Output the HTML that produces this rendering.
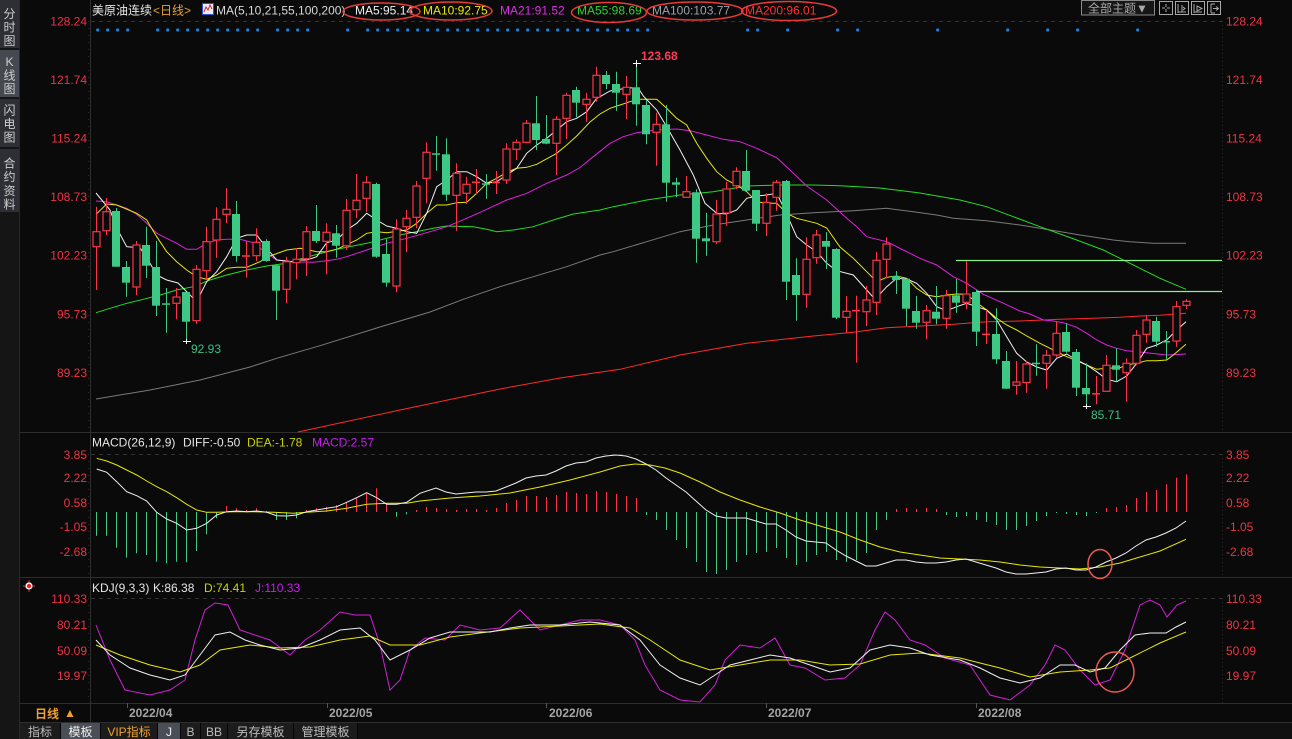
<!DOCTYPE html>
<html><head><meta charset="utf-8">
<style>
html,body{margin:0;padding:0;background:#0a0a0a;width:1292px;height:739px;overflow:hidden}
svg{display:block}
text{font-family:"Liberation Sans","Noto Sans CJK SC",sans-serif;font-size:12px}
.cj{font-family:"Liberation Sans","Noto Sans CJK SC",sans-serif}
</style></head><body>
<svg id="s" width="1292" height="739" viewBox="0 0 1292 739" xmlns="http://www.w3.org/2000/svg">
<rect x="0" y="0" width="1292" height="739" fill="#0a0a0a"/>
<!-- sidebar -->
<rect x="0" y="0" width="20" height="739" fill="#151515"/>
<rect x="0" y="0" width="19" height="48" fill="#2d2f34"/>
<rect x="0" y="50" width="19" height="47" fill="#464950"/>
<rect x="0" y="99" width="19" height="48" fill="#2d2f34"/>
<rect x="0" y="149" width="19" height="63" fill="#2d2f34"/>
<line x1="19.5" y1="0" x2="19.5" y2="739" stroke="#2a2a2a"/>
<g fill="#cfcfcf" font-size="13" text-anchor="middle" class="cj">
<text x="9.5" y="18">分</text><text x="9.5" y="31.5">时</text><text x="9.5" y="45">图</text>
<text x="9.5" y="66" font-family="Liberation Mono,monospace">K</text><text x="9.5" y="79.5">线</text><text x="9.5" y="93">图</text>
<text x="9.5" y="114.5">闪</text><text x="9.5" y="128">电</text><text x="9.5" y="141.5">图</text>
<text x="9.5" y="167.5">合</text><text x="9.5" y="181">约</text><text x="9.5" y="195">资</text><text x="9.5" y="208.5">料</text>
</g>
<!-- frame lines -->
<line x1="90.5" y1="0" x2="90.5" y2="722" stroke="#2e2e2e"/>
<line x1="20" y1="432.5" x2="1292" y2="432.5" stroke="#2e2e2e"/>
<line x1="20" y1="577.5" x2="1292" y2="577.5" stroke="#2e2e2e"/>
<line x1="20" y1="703.5" x2="1292" y2="703.5" stroke="#2e2e2e"/>
<line x1="20" y1="722.5" x2="1292" y2="722.5" stroke="#2e2e2e"/>
<line x1="1222.5" y1="21" x2="1222.5" y2="432" stroke="#2a2a2a" stroke-dasharray="1,3"/>
<line x1="1222.5" y1="454" x2="1222.5" y2="577" stroke="#2a2a2a" stroke-dasharray="1,3"/>
<line x1="1222.5" y1="598" x2="1222.5" y2="703" stroke="#2a2a2a" stroke-dasharray="1,3"/>
<line x1="88.5" y1="21" x2="88.5" y2="432" stroke="#2a2a2a" stroke-dasharray="1,6"/>
<line x1="88.5" y1="454" x2="88.5" y2="577" stroke="#2a2a2a" stroke-dasharray="1,6"/>
<line x1="88.5" y1="598" x2="88.5" y2="703" stroke="#2a2a2a" stroke-dasharray="1,6"/>
<!-- dashed top refs -->
<line x1="91" y1="21.5" x2="1222" y2="21.5" stroke="#333" stroke-dasharray="4,4"/>
<line x1="91" y1="454.5" x2="1222" y2="454.5" stroke="#333" stroke-dasharray="4,4"/>
<line x1="91" y1="598.5" x2="1222" y2="598.5" stroke="#333" stroke-dasharray="4,4"/>

<!-- header -->
<text x="92" y="14.5" fill="#e8e8e8">美原油连续</text>
<text x="153" y="14.5" fill="#e8a23a">&lt;日线&gt;</text>
<rect x="202.5" y="3.5" width="11" height="11" fill="#e8ecff" stroke="#2a50d0"/>
<polyline points="204,12 206,7 208,10 210,5 212,9" fill="none" stroke="#e02020" stroke-width="1"/>
<text x="216" y="14.5" fill="#d8d8d8">MA(5,10,21,55,100,200)</text>
<text x="355" y="14.5" fill="#f0f0f0">MA5:95.14</text>
<text x="423" y="14.5" fill="#e8e800">MA10:92.75</text>
<text x="500" y="14.5" fill="#d830e0">MA21:91.52</text>
<text x="577" y="14.5" fill="#30d030">MA55:98.69</text>
<text x="652" y="14.5" fill="#9aa2aa">MA100:103.77</text>
<text x="745" y="14.5" fill="#ff3030">MA200:96.01</text>
<g fill="none" stroke="#e83a3a" stroke-width="1.5">
<ellipse cx="381.5" cy="11.5" rx="38.5" ry="8.5"/>
<ellipse cx="451" cy="11" rx="41" ry="9"/>
<ellipse cx="609" cy="12.5" rx="37.5" ry="10"/>
<ellipse cx="695" cy="11" rx="48" ry="9"/>
<ellipse cx="789" cy="11" rx="47.5" ry="9.5"/>
</g>
<!-- top right buttons -->
<rect x="1081.5" y="0.5" width="73" height="14.5" fill="#161616" stroke="#8a8a8a"/>
<text x="1088" y="12.5" fill="#a8a8a8">全部主题▼</text>
<g fill="none" stroke="#a8a8a8">
<rect x="1159.5" y="1.5" width="13" height="13"/>
<rect x="1175.5" y="1.5" width="13" height="13"/>
<rect x="1191.5" y="1.5" width="13" height="13"/>
<rect x="1207.5" y="1.5" width="13" height="13"/>
<path d="M1166 4v3M1166 9v3M1162 8h3M1167 8h3"/>
<path d="M1178 4v9M1178 12h8M1182 5v7M1183 7l2 1.5-2 1.5"/>
<path d="M1194 4v9M1194 12h8M1197 6l5 2.5-5 2.5z"/>
<path d="M1211 4v9M1211 4h4M1211 13h4M1213 8.5h5M1216 6.5l2.5 2-2.5 2"/>
</g>

<!-- left labels -->
<g fill="#ee3344" text-anchor="end">
<text x="87" y="25.5">128.24</text><text x="87" y="84">121.74</text><text x="87" y="142.5">115.24</text><text x="87" y="201">108.73</text><text x="87" y="259.5">102.23</text><text x="87" y="318.5">95.73</text><text x="87" y="377">89.23</text>
<text x="87" y="458.8">3.85</text><text x="87" y="481.8">2.22</text><text x="87" y="507.2">0.58</text><text x="87" y="531.2">-1.05</text><text x="87" y="556.2">-2.68</text>
<text x="87" y="602.8">110.33</text><text x="87" y="628.8">80.21</text><text x="87" y="655.2">50.09</text><text x="87" y="680.2">19.97</text>
</g>
<g fill="#ee3344">
<text x="1226" y="25.5">128.24</text><text x="1226" y="84">121.74</text><text x="1226" y="142.5">115.24</text><text x="1226" y="201">108.73</text><text x="1226" y="259.5">102.23</text><text x="1226" y="318.5">95.73</text><text x="1226" y="377">89.23</text>
<text x="1226" y="458.8">3.85</text><text x="1226" y="481.8">2.22</text><text x="1226" y="507.2">0.58</text><text x="1226" y="531.2">-1.05</text><text x="1226" y="556.2">-2.68</text>
<text x="1226" y="602.8">110.33</text><text x="1226" y="628.8">80.21</text><text x="1226" y="655.2">50.09</text><text x="1226" y="680.2">19.97</text>
</g>

<!-- blue dots -->
<g id="dots" fill="#1f80d8"></g>

<!-- MA lines -->
<g fill="none" stroke-width="1">
<polyline stroke="#7a7a7a" points="96,399 150,390 200,380 250,367 276.7,358.3 320,345.7 380,327 430,312 463.3,299.3 500,286.7 533.3,276.7 566.7,266.7 600,255 613.3,251.7 646.7,241.7 680,231.7 713.3,225 746.7,220 780,215 813.3,212.7 853.3,210.7 886.7,208.3 913.3,211.7 936.7,215 953.3,218.3 986.7,220.7 1020,225 1040,228.3 1080,235 1113.3,240 1130,241.7 1153.3,243.3 1186,243.3"/>
<polyline stroke="#ff2a2a" points="298,432 400,410 500,389 560,378 620,369.3 680,355 746.7,343.3 813.3,336 853.3,332.3 886.7,327.7 920,326 953.3,324.3 986.7,321.7 1020,321 1060,319.3 1093.3,318.3 1120,317.3 1140,316 1160,315.3 1186,313.3"/>
<polyline stroke="#22dd22" points="96,312.7 110,308.3 126.7,303.3 143.3,299.3 160,295 176.7,290 193.3,286.7 210,280 226.7,275 246.7,270 266.7,266 286.7,263.3 300,259 333.3,250 366.7,243.3 400,235 433.3,228.3 446.7,226 473.3,226.7 486.7,229.3 496.7,231.7 513.3,230 533.3,226.7 553.3,220 573.3,214 600,210 613.3,206.7 646.7,200 680,195 713.3,191.7 746.7,186 780,185 813.3,185 840,185.7 880,188 920,193 960,200 986.7,206.7 1013.3,216.7 1040,226.7 1076.7,240 1103.3,250 1130,263.3 1160,278.3 1186,289.3"/>
<polyline stroke="#e020e0" points="96,201 106.7,201.7 116.7,205 126.7,208.3 136.7,214.3 146.7,223.3 156.7,233.3 166.7,238.3 176.7,243.3 186.7,249.3 196.7,249.3 206.7,243.3 216.7,240 226.7,239.3 240,239.3 253.3,242.7 266.7,253.3 276.7,260 293.3,261.7 313.3,262.3 326.7,260.7 336.7,259.3 346.7,256.7 356.7,253.3 366.7,250 386.7,243.3 406.7,238.3 426.7,232.7 446.7,226.7 466.7,218.3 486.7,209.3 506.7,200 526.7,193.3 546.7,183.3 566.7,175 580,167.5 593.3,156.7 610,143.3 623.3,136.7 636.7,132.7 656.7,130 676.7,129 690,130.7 706.7,135 723.3,139.3 740,141.7 756.7,148.3 776.7,157.7 790,170 806.7,186 826.7,200 846.7,218.3 856.7,226.7 866.7,236.7 886.7,241.7 903.3,250 920,258.3 936.7,265 953.3,276.7 966.7,283.3 983.3,294.3 1000,301.7 1020,311 1030,314 1043.3,320 1053.3,321 1063.3,322.7 1076.7,327.3 1086.7,333.3 1096.7,340 1106.7,345 1116.7,348.3 1126.7,350.7 1146.7,352.7 1166.7,355 1186,354"/>
<polyline stroke="#e8e800" points="96,214.3 106.7,204 116.7,205 136.7,213.3 146.7,220 156.7,236.7 166.7,251.7 176.7,261.7 186.7,270 196.7,276.7 206.7,279.3 216.7,275 226.7,268.3 236.7,267.3 246.7,267.3 260,261.7 270,256 286.7,250 300,248.3 316.7,251.7 326.7,251.7 336.7,249.3 356.7,240 366.7,233.3 376.7,231.7 386.7,232.7 406.7,230 416.7,223.3 426.7,213.3 436.7,205 446.7,205 456.7,202.7 466.7,202.3 476.7,193.3 486.7,183.3 496.7,178.3 506.7,172.3 516.7,168.3 526.7,167.3 536.7,164.3 556.7,153.3 566.7,145 576.7,136 590,122 600,114 610,108.3 620,105 630,101.7 640,99.3 656.7,99.3 666.7,108.3 676.7,118.3 686.7,125 696.7,143.3 706.7,158.3 716.7,171.7 726.7,180 736.7,185 746.7,191.7 756.7,201.7 766.7,203.3 776.7,203.3 786.7,213.3 796.7,218.3 816.7,223.3 826.7,228 840,247 853.3,258.3 866.7,271.7 876.7,281.7 886.7,277.3 896.7,276 906.7,278.3 916.7,288.3 926.7,295 936.7,296.7 946.7,295 956.7,294 966.7,294.3 976.7,302.7 986.7,310 996.7,318.3 1006.7,325 1016.7,330 1026.7,336 1040,343.3 1056.7,351.7 1066.7,356.7 1076.7,360.7 1086.7,365 1096.7,369.3 1106.7,368.3 1120,367.7 1126.7,365 1136.7,363.3 1146.7,360.7 1156.7,360.7 1166.7,360 1173.3,355 1186,344.3"/>
<polyline stroke="#f0f0f0" points="96,193 106.7,206 110,210 116.7,228 126.7,246.7 140,247.7 150,263.3 156.7,275 166.7,280 178,283 185,290 193.3,298.3 198.3,298.3 206.7,281.7 216.7,271.7 226.7,256.7 236.7,238.3 246.7,235 256.7,235 266.7,248.3 276.7,260 293,261.7 300,260 306.7,260 316.7,256.7 326.7,242.7 336.7,240 346.7,230 356.7,223.3 366.7,213.3 376.7,220 386.7,226 396.7,228.3 406.7,231.7 416.7,233.3 426.7,213.3 436.7,186.7 446.7,180 456.7,171.7 466.7,171.7 476.7,176.7 486.7,183.3 496.7,181.7 506.7,175 516.7,168.3 526.7,153.3 536.7,145 546.7,138.3 556.7,130 566.7,121.7 576.7,118.3 586.7,111.7 596.7,98.3 600,96.7 610,91 620,89.3 630,87.7 638.3,88.3 643.3,96 656.7,110 666.7,126.7 680,150 693.3,175 705,203.3 716.7,213.3 726.7,214 736.7,210 746.7,198.3 756.7,196 766.7,195 776.7,193.3 783.3,206.7 796.7,236.7 806.7,245 816.7,251.7 826.7,263.3 836.7,270.7 853.3,275 866.7,290 875,299.3 886.7,286.7 896.7,278.3 906.7,279 916.7,283.3 926.7,293.3 936.7,306.7 946.7,310.7 956.7,306.7 966.7,303.3 976.7,306.7 986.7,310 996.7,320 1006.7,336.7 1016.7,353.3 1026.7,362 1036.7,367 1046.7,370 1056.7,358.3 1066.7,354 1076.7,360 1086.7,365 1096.7,371.7 1106.7,379.3 1116.7,381.7 1126.7,376 1136.7,363.3 1146.7,348.3 1156.7,345 1166.7,340 1176.7,330 1186,321.7"/>
</g>
<!-- horizontal light green lines -->
<line x1="956" y1="260.5" x2="1222" y2="260.5" stroke="#8cf08c" stroke-width="1.2"/>
<line x1="976" y1="291.5" x2="1222" y2="291.5" stroke="#8cf08c" stroke-width="1.2"/>

<!-- candles -->
<g id="cd"></g>

<!-- extreme markers -->
<g stroke="#ffffff" stroke-width="1">
<line x1="183" y1="341.5" x2="191" y2="341.5"/><line x1="186.5" y1="339" x2="186.5" y2="344"/>
<line x1="633" y1="63.5" x2="641" y2="63.5"/><line x1="636.5" y1="60" x2="636.5" y2="67"/>
<line x1="1083" y1="406.5" x2="1091" y2="406.5"/><line x1="1086.5" y1="404" x2="1086.5" y2="409"/>
</g>
<text x="191" y="353" fill="#3cbf86" font-size="12.5">92.93</text>
<text x="641" y="60" fill="#ff3a55" font-weight="bold">123.68</text>
<text x="1091" y="419" fill="#3cbf86" font-size="12.5">85.71</text>

<!-- MACD -->
<text x="92" y="446.5" fill="#e6e6e6">MACD(26,12,9)</text>
<text x="183" y="446.5" fill="#e6e6e6">DIFF:-0.50</text>
<text x="247" y="446.5" fill="#c8d400">DEA:-1.78</text>
<text x="312" y="446.5" fill="#c020e8">MACD:2.57</text>
<g id="hist"></g>
<g fill="none" stroke-width="1">
<polyline stroke="#e8e800" points="96.7,458.3 106.7,461 116.7,465 126.7,470 136.7,475 146.7,481 156.7,486.7 166.7,491.7 176.7,497.7 186.7,504.3 196.7,510 206.7,512.3 216.7,512.3 233.3,511.7 253.3,511.7 273.3,512.3 293.3,513.3 306.7,512.3 326.7,511 346.7,508.3 366.7,504.3 386.7,503.3 406.7,503.3 420,501 450,498 480,496 510,493 540,487 570,480 600,472 620,466 635,464 650,465 665,468 680,473 700,482 720,492 740,500 760,507 780,513 800,520 820,526 840,532 860,540 880,547 900,552 920,555 940,558 960,559 980,560 1000,562 1020,565 1040,567 1060,568 1080,569 1100,567 1120,563 1140,557 1160,551 1186,539.3"/>
<polyline stroke="#f0f0f0" points="96.7,469 106.7,472.3 116.7,481.7 126.7,491.7 136.7,495.7 146.7,501 156.7,512.3 166.7,519 176.7,523.3 186.7,530 196.7,528.3 206.7,523.3 216.7,515 226.7,511.7 236.7,511 246.7,511.7 256.7,511 266.7,512.3 276.7,515.7 286.7,516 296.7,515 306.7,511.7 316.7,510 326.7,508.3 336.7,506.7 346.7,502.3 356.7,497.7 366.7,492.7 376.7,497.7 386.7,504.3 396.7,504.3 406.7,502.3 420,493.3 436,488 446,492 456,494 466,493 476,492 486,492 496,491 506,487 516,483 526,478 536,476 546,475 556,471 566,466 576,463 586,462 596,458 606,456 616,455 626,456 636,459 646,464 656,470 666,478 676,485 686,492 696,501 706,510 716,516 726,518 736,518 746,518 756,521 766,524 776,524 786,530 796,537 806,541 816,542 826,543 836,550 846,556 856,561 866,566 876,566 886,563 896,560 906,560 916,562 926,563 936,563 946,562 956,560 966,559 976,562 986,565 996,568 1006,572 1016,574 1026,574 1036,573 1046,572 1056,569 1066,568 1076,570 1086,570 1096,567 1106,562 1116,558 1126,553 1136,546 1146,540 1156,537 1166,533 1176,528 1186,521"/>
</g>
<ellipse cx="1100" cy="564" rx="12" ry="14.5" fill="none" stroke="#e85a50" stroke-width="1.5"/>

<!-- KDJ -->
<g>
<line x1="23" y1="586" x2="35" y2="586" stroke="#ff2020" stroke-width="1" stroke-dasharray="2,8"/>
<line x1="29" y1="580" x2="29" y2="592" stroke="#ff2020" stroke-width="1" stroke-dasharray="2,8"/>
<circle cx="29" cy="586" r="3.6" fill="#ffffff"/>
<circle cx="29" cy="586" r="2.2" fill="#ff1a1a"/>
</g>
<text x="92" y="592" fill="#e6e6e6">KDJ(9,3,3)</text>
<text x="153" y="592" fill="#e6e6e6">K:86.38</text>
<text x="204" y="592" fill="#c8d400">D:74.41</text>
<text x="255" y="592" fill="#c020e8">J:110.33</text>
<g fill="none" stroke-width="1">
<polyline stroke="#d020d8" points="96,625 110,660 125,690 150,695 170,690 185,680 195,640 205,610 215,603 228,605 240,630 255,635 270,640 290,655 305,640 320,630 340,612 355,615 370,615 380,645 390,690 400,680 410,650 425,638 445,640 460,625 480,630 500,628 520,610 540,630 560,625 580,620 600,620 620,625 635,640 645,665 660,690 680,700 700,702 715,685 725,660 740,645 760,648 775,638 790,665 805,668 825,680 845,678 860,665 875,630 885,612 895,620 910,640 925,645 945,658 970,665 990,695 1010,700 1030,685 1045,665 1055,645 1065,650 1080,670 1095,685 1110,680 1125,650 1140,605 1150,600 1160,605 1167,617 1177,605 1186,601"/>
<polyline stroke="#e8e800" points="96,645 120,655 150,665 180,672 200,665 220,650 250,645 280,648 310,647 340,640 370,636 390,645 420,645 450,637 480,633 520,628 560,626 600,624 630,628 650,640 680,660 710,670 740,665 770,660 800,660 830,665 860,664 890,655 920,653 960,658 1000,668 1030,677 1060,672 1090,670 1110,668 1130,658 1160,643 1186,632"/>
<polyline stroke="#f0f0f0" points="96,640 110,655 130,668 150,675 170,680 185,675 200,655 215,635 230,632 245,640 260,645 280,650 300,648 320,640 340,630 360,628 375,640 390,660 410,650 430,638 450,632 470,632 490,632 510,628 530,625 560,625 590,622 620,625 640,640 660,665 680,678 700,685 715,675 730,665 750,660 770,655 790,658 810,665 830,672 850,668 870,650 890,645 910,648 930,655 960,660 980,668 1000,678 1020,683 1040,678 1060,665 1075,665 1090,672 1105,668 1120,650 1135,635 1150,633 1166,633 1176,627 1186,622"/>
</g>
<ellipse cx="1115" cy="672" rx="19" ry="20" fill="none" stroke="#e85a50" stroke-width="1.5"/>

<!-- date axis -->
<g stroke="#555">
<line x1="127.5" y1="703" x2="127.5" y2="708"/><line x1="327.5" y1="703" x2="327.5" y2="708"/><line x1="546.5" y1="703" x2="546.5" y2="708"/><line x1="766.5" y1="703" x2="766.5" y2="708"/><line x1="976.5" y1="703" x2="976.5" y2="708"/>
</g>
<g fill="#a4a4a4" font-weight="bold">
<text x="129" y="717">2022/04</text><text x="329" y="717">2022/05</text><text x="549" y="717">2022/06</text><text x="768" y="717">2022/07</text><text x="978" y="717">2022/08</text>
</g>
<text x="35" y="718" fill="#f0a030" font-weight="bold" font-size="13">日线</text>
<text x="64" y="717" fill="#f0a030" font-size="10">▲</text>

<!-- bottom tabs -->
<rect x="20" y="723" width="1272" height="16" fill="#101010"/>
<rect x="20" y="723" width="337" height="16" fill="#1c1c1c"/>
<rect x="61" y="723" width="39" height="16" fill="#4a4e57"/>
<rect x="158" y="723" width="22" height="16" fill="#4a4e57"/>
<g stroke="#050505">
<line x1="60.5" y1="723" x2="60.5" y2="739"/><line x1="100.5" y1="723" x2="100.5" y2="739"/><line x1="157.5" y1="723" x2="157.5" y2="739"/><line x1="180.5" y1="723" x2="180.5" y2="739"/><line x1="200.5" y1="723" x2="200.5" y2="739"/><line x1="227.5" y1="723" x2="227.5" y2="739"/><line x1="293.5" y1="723" x2="293.5" y2="739"/><line x1="357.5" y1="723" x2="357.5" y2="739"/>
</g>
<g font-size="13" text-anchor="middle">
<text x="40" y="736" fill="#bdbdbd">指标</text>
<text x="80.5" y="736" fill="#f0f0f0">模板</text>
<text x="129" y="736" fill="#f0a030">VIP指标</text>
<text x="169" y="736" fill="#f0f0f0" font-family="Liberation Mono,monospace">J</text>
<text x="190.5" y="736" fill="#bdbdbd" font-family="Liberation Mono,monospace" font-size="11">B</text>
<text x="214" y="736" fill="#bdbdbd" font-family="Liberation Mono,monospace" font-size="11">BB</text>
<text x="260.5" y="736" fill="#bdbdbd">另存模板</text>
<text x="325.5" y="736" fill="#bdbdbd">管理模板</text>
</g>
</svg>
<script>
(function(){
var NS='http://www.w3.org/2000/svg';
var D=[["r",231.7,246.7,206.7,290],["r",211.7,230.7,198,235],["g",211,266.7,208,266.7],["g",267,282.7,261,296.7],["r",245,287,241,295],["g",245,265.7,226.7,278],["g",267,305.7,240.7,316],["g",303.3,304.7,288,332.7],["r",297,303.3,288,319.3],["g",292,321.7,292,339],
["r",269.3,320.7,265,324],["r",241.7,270.7,226.7,280],["r",219.3,240,207.3,257.7],["r",209.3,214.3,188.3,223.3],["g",214,256,201,261.7],["r",255.5,256.5,241,277.7],["r",242.3,255.7,228.3,261],["g",241,261,239.3,261.7],["g",265.3,290.7,265,320],["r",261.7,289.3,256.7,303.3],
["r",259.3,262.7,248,279.3],["r",231.7,258.7,226,276],["g",231,241,205,243],["r",232.3,241.3,223.3,274.3],["g",233.3,245.7,225,257.7],["r",210.3,245.7,199,250],["r",200.3,209.7,174,218.3],["r",182.3,198.3,176,211.7],["g",184,256.7,182.7,257.7],["g",254,282.7,239.3,286.7],
["r",229,286,219.3,292.3],["r",218.3,226.7,210,252.3],["r",186,217.3,181,228.3],["r",152.3,178.3,142.3,203.3],["g",153.3,154.3,136,170.7],["g",154.3,194.7,138.3,200.7],["r",173.3,195.3,163.3,230.7],["r",184.3,193.3,176.7,204],["r",181.8,182.8,169,194],["g",183.3,184.3,174,198.7],
["r",181.7,183.3,171,194],["r",149,180,143.3,184],["r",142.3,149.3,139.3,160],["r",123.3,142.3,120,143.3],["g",123.3,140,96,150],["g",139,143.7,115,144.3],["r",119.3,143.3,116,175],["r",95.3,118.3,92.7,139],["g",90,102.7,86.7,117.3],["r",99.3,104.3,92.7,121.7],
["r",75.3,97.3,66.7,101.7],["g",75,84,71,89.3],["g",84,92.7,71.7,110.7],["r",87.3,94.3,75.7,119],["g",87.3,104.3,62,125.7],["g",105,134.3,100,144.3],["r",124.3,132.3,112.7,165.7],["g",124.3,182.7,105,201.7],["g",182.3,184.7,177.7,197.3],["r",191.7,197.3,176,197.3],
["g",192.3,238.7,189.3,262.7],["g",238.3,241.3,212.7,255.7],["r",214,241.7,200,243.7],["r",189,213,181.7,225.7],["r",171.3,185.7,167.3,189.3],["g",171,190.7,150,191],["g",190,223.7,190,231],["r",202.3,223.3,193.3,236],["r",182.3,197.3,180,210.7],["g",181,281.7,180,300],
["g",275,295,258.3,320.7],["r",259.3,294.3,237.3,307.7],["r",235,257.7,230,263.7],["g",241,246.7,232,269],["g",249,317.7,248.3,319],["r",311.3,317.3,296,333.3],["r",310,311.3,295.7,362.7],["r",300,311.7,286,326],["r",260.3,302.3,251.7,315],["r",244,259.3,237.3,278.3],
["g",276,280,271,294],["g",278.7,308.7,278.7,326],["g",311,322.7,296,328.7],["r",310.7,322.3,305,339.3],["g",311.7,318.7,286,324.3],["r",295.7,318.3,290,328.7],["g",295.3,302.7,279,312.7],["r",294,302.3,261,309.3],["g",292,331.7,290,346],["r",333.8,334.8,310,344],
["g",334,359.3,308.3,363.7],["g",361,388.7,351,389],["r",382,385.3,361,394.7],["r",364,382.5,360.7,392.7],["g",362.7,363.7,344.3,375.7],["r",355.3,363.3,350,388.7],["r",333.3,355,322,357.3],["g",332,351.7,323.3,352.7],["g",352,387.7,349,396],["g",388,394.3,363.3,404],
["r",393.3,394.3,376,404.3],["r",365.3,391.3,355,391.7],["g",365.3,369.7,348.3,381.7],["r",363.3,372.7,358.3,401.7],["r",335.3,363.3,330,365],["r",320,334.3,315,342.7],["g",321,341.7,316.7,346.7],["g",341,342,331,360],["r",306.7,341,301,346.7],["r",301.3,305.3,299,309]];
var R='#ff3345',G='#3dc985';
function L(x1,y1,x2,y2,c,w){return '<line x1="'+x1+'" y1="'+y1+'" x2="'+x2+'" y2="'+y2+'" stroke="'+c+'" stroke-width="'+(w||1)+'"/>';}
var h='';
for(var i=0;i<D.length;i++){
 var d=D[i],c=96.5+10*i,t=d[1],b=d[2],hi=d[3],lo=d[4];
 if(d[0]=='r'){
  if(b-t<2.5){
   var m=(t+b)/2;
   h+=L(c,hi,c,lo,R)+'<rect x="'+(c-4.5)+'" y="'+(m-0.75)+'" width="8" height="1.5" fill="'+R+'"/>';
  } else {
   if(hi<t) h+=L(c,hi,c,t,R);
   if(lo>b) h+=L(c,b,c,lo,R);
   h+='<rect x="'+(c-3.5)+'" y="'+t+'" width="7" height="'+(b-t)+'" fill="#0a0a0a" stroke="'+R+'" stroke-width="1.2"/>';
  }
 } else {
  h+=L(c,hi,c,lo,G);
  var hh=Math.max(b-t,1.5);
  h+='<rect x="'+(c-4.5)+'" y="'+t+'" width="8" height="'+hh+'" fill="'+G+'"/>';
 }
}
document.getElementById('cd').innerHTML=h;

var M=[535.7,535.7,547.7,557.7,553.3,555,561.7,563.3,561.7,562.3,
551,534.3,518.3,506,508.3,510,508.3,511,520,520,
518.3,510,508.3,506.7,505,502.3,497.7,493.3,488.3,503.3,
516.7,514.3,510,507,508,509,510,509,509,510,
508,503,500,496,496,497,495,492,493,494,
491,492,494,496,498,515,520,530,540,548,
562,572,574,570,562,555,553,552,548,558,
565,562,555,552,560,562,560,553,530,520,
509,508,509,508,509,515,517,516,520,522,
525,530,530,526,521,516,513,514,515,516,
513,508,507,505,498,492,490,484.3,477.7,474.3];
var hs='';
for(var j=0;j<M.length;j++){
 var x=96.5+10*j,y=M[j];
 if(Math.abs(y-512)<0.6) continue;
 hs+=L(x,512,x,y,y<512?R:G,1);
}
document.getElementById('hist').innerHTML=hs;

var dots=[0,1,2,3,6,7,8,9,10,11,12,13,14,15,16,18,19,20,21,25,27,28,29,30,31,32,33];
for(var k=34;k<=55;k++)dots.push(k);
dots=dots.concat([65,66,69,74,76,84,91,95,98,104]);
var ds='';
for(var q=0;q<dots.length;q++){ds+='<circle cx="'+(97.7+10*dots[q])+'" cy="30" r="1.6"/>';}
document.getElementById('dots').innerHTML=ds;
})();
</script>
</body></html>
